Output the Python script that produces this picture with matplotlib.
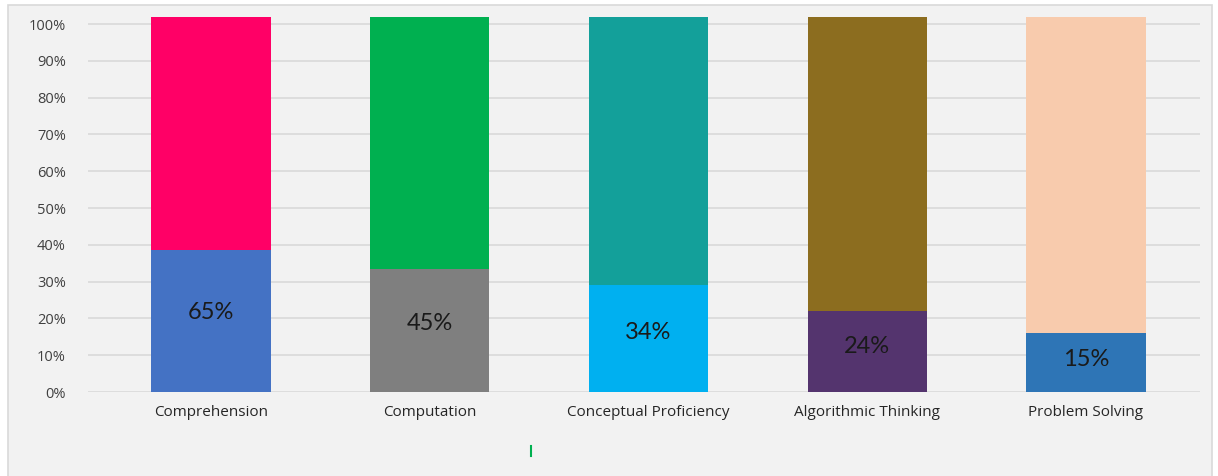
import numpy as np
import matplotlib
matplotlib.use("Agg")
from matplotlib import pyplot as plt
from matplotlib.patches import Rectangle

# 数据
categories = ["Comprehension", "Computation", "Conceptual Proficiency",
              "Algorithmic Thinking", "Problem Solving"]
bottom_values = [38.6, 33.4, 29.1, 22.0, 16.0]
total_values = [102, 102, 102, 102, 102]
bar_labels = ["65%", "45%", "34%", "24%", "15%"]
bottom_colors = ["#4472C4", "#7F7F7F", "#00B0F0", "#54346E", "#2E75B6"]
top_colors = ["#FF0066", "#00B050", "#13A09A", "#8C6D1F", "#F8CBAD"]
y_ticks = list(range(0, 101, 10))

fig = plt.figure(figsize=(12.18, 4.76), dpi=100)
fig.patch.set_facecolor("white")

# 图表区背景和边框 (单独的底层坐标轴)
bg = fig.add_axes([0, 0, 1, 1], zorder=0)
bg.set_xlim(0, 1218)
bg.set_ylim(476, 0)
bg.axis("off")
bg.add_patch(Rectangle((8, 5), 1204, 480, facecolor="#f2f2f2",
                       edgecolor="#d9d9d9", linewidth=1.2))
# 图例残留的小绿线
bg.plot([531, 531], [446, 456], color="#00B050", linewidth=1.5)

ax = fig.add_axes([88 / 1218, 84 / 476, 1112 / 1218, (392 - 9.3) / 476], zorder=1)
ax.set_facecolor("none")

x = np.arange(len(categories))
top_values = [t - b for t, b in zip(total_values, bottom_values)]
ax.bar(x, bottom_values, width=0.545, color=bottom_colors, zorder=3)
ax.bar(x, top_values, bottom=bottom_values, width=0.545, color=top_colors, zorder=3)

# 柱内百分比标签
for xi, b, lab in zip(x, bottom_values, bar_labels):
    ax.text(xi, b * 0.56, lab, ha="center", va="center", fontsize=17,
            family="Lato", color="#1a1a1a", zorder=4)

ax.set_xlim(-0.562, 4.521)
ax.set_ylim(0, 104)
ax.set_yticks(y_ticks)
ax.set_yticklabels(["{}%".format(v) for v in y_ticks], family="Open Sans",
                   fontsize=10.5, color="#404040")
ax.set_xticks(x)
ax.set_xticklabels(categories, family="Open Sans", fontsize=11, color="#262626")
ax.tick_params(axis="both", length=0)
ax.tick_params(axis="y", pad=16)
ax.tick_params(axis="x", pad=9)
ax.grid(axis="y", color="#d9d9d9", linewidth=1.2, zorder=0)
for s in ax.spines.values():
    s.set_visible(False)

plt.savefig("out.png", dpi=100)
